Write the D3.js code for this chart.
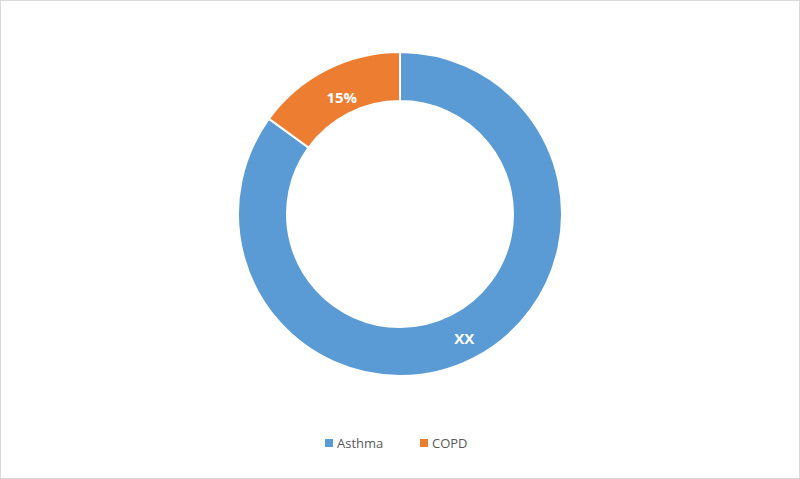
<!DOCTYPE html>
<html><head><meta charset="utf-8">
<script src="https://cdn.jsdelivr.net/npm/d3@7"></script>
<style>body{margin:0;background:#fff}</style></head>
<body><svg id="c" width="800" height="479"></svg>
<script>
const categories = ["Asthma", "COPD"];
const values = [85, 15];
const labels = ["XX", "15%"];
const colors = ["#5B9BD5", "#ED7D31"];

const svg = d3.select("#c");
svg.append("rect").attr("x",0.5).attr("y",0.5).attr("width",799).attr("height",478)
  .attr("fill","#fff").attr("stroke","#d9d9d9");
const g = svg.append("g").attr("transform","translate(400,214)");
const pie = d3.pie().sort(null).value(d=>d).startAngle(0).endAngle(2*Math.PI);
const arcs = pie(values);
const arc = d3.arc().innerRadius(113).outerRadius(162);
g.selectAll("path").data(arcs).join("path")
  .attr("d", arc).attr("fill",(d,i)=>colors[i]).attr("stroke","#fff").attr("stroke-width",2);
const lab = d3.arc().innerRadius(135).outerRadius(135);
g.selectAll("text").data(arcs).join("text")
  .attr("transform", d=>{const c=lab.centroid(d);return `translate(${c[0]+3},${c[1]+4})`;})
  .attr("text-anchor","middle").attr("dy","0.35em")
  .attr("fill","#fff").attr("font-family","'Open Sans', sans-serif")
  .attr("font-weight","bold").attr("font-size",15)
  .text((d,i)=>labels[i]);

const leg = svg.append("g").attr("font-family","'Open Sans', sans-serif").attr("font-size",13);
const lx = [325, 420];
categories.forEach((c,i)=>{
  leg.append("rect").attr("x",lx[i]).attr("y",439).attr("width",8).attr("height",8).attr("fill",colors[i]);
  leg.append("text").attr("x",lx[i]+12).attr("y",448).attr("fill","#595959").text(c);
});
</script></body></html>
